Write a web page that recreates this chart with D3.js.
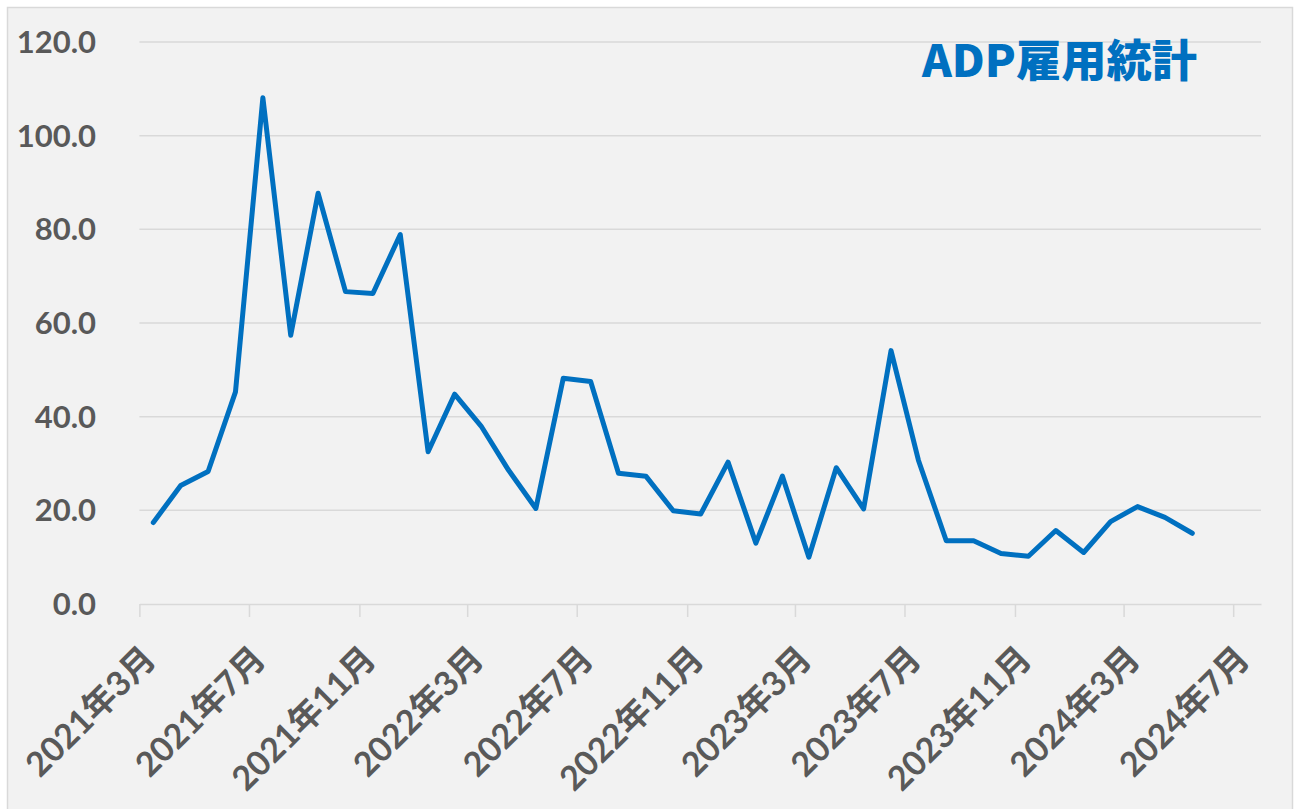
<!DOCTYPE html>
<html>
<head>
<meta charset="utf-8">
<script src="https://cdn.jsdelivr.net/npm/d3@7"></script>
<style>
  body { margin: 0; background: #fff; }
</style>
</head>
<body>
<div id="chart"></div>
<script>
// Data: ADP employment, monthly (Mar 2021 - May 2024)
let months = ["2021-03","2021-04","2021-05","2021-06","2021-07","2021-08","2021-09","2021-10","2021-11","2021-12",
              "2022-01","2022-02","2022-03","2022-04","2022-05","2022-06","2022-07","2022-08","2022-09","2022-10","2022-11","2022-12",
              "2023-01","2023-02","2023-03","2023-04","2023-05","2023-06","2023-07","2023-08","2023-09","2023-10","2023-11","2023-12",
              "2024-01","2024-02","2024-03","2024-04","2024-05"];
let values = [17.4, 25.3, 28.3, 45.3, 108.1, 57.4, 87.7, 66.7, 66.3, 78.9,
              32.5, 44.8, 38.0, 28.6, 20.4, 48.2, 47.5, 27.9, 27.3, 19.9, 19.2, 30.3,
              13.0, 27.3, 10.0, 29.1, 20.3, 54.1, 30.7, 13.5, 13.5, 10.8, 10.2, 15.7,
              11.0, 17.6, 20.8, 18.5, 15.1];

// Axis ticks
let tickMonths = ["2021-03","2021-07","2021-11","2022-03","2022-07","2022-11",
                  "2023-03","2023-07","2023-11","2024-03","2024-07"];
let tickLabels = ["2021年3月","2021年7月","2021年11月","2022年3月","2022年7月","2022年11月",
                  "2023年3月","2023年7月","2023年11月","2024年3月","2024年7月"];
let yTicks = [0, 20, 40, 60, 80, 100, 120];

let title = "ADP雇用統計";

let width = 1294, height = 809;
let parseMonth = d3.timeParse("%Y-%m");

let svg = d3.select("#chart")
  .append("svg")
  .attr("width", width)
  .attr("height", height);

// chart background
svg.append("rect")
  .attr("x", 7.5)
  .attr("y", 7.5)
  .attr("width", 1285)
  .attr("height", 810)
  .attr("fill", "#f2f2f2")
  .attr("stroke", "#d9d9d9")
  .attr("stroke-width", 1.5);

let x = d3.scaleTime()
  .domain([parseMonth("2021-03"), parseMonth("2024-08")])
  .range([139.4, 1261]);

let y = d3.scaleLinear()
  .domain([0, 120])
  .range([604, 42]);

// middle of each month
function midMonth(m) {
  let start = parseMonth(m);
  let end = d3.timeMonth.offset(start, 1);
  return new Date((start.getTime() + end.getTime()) / 2);
}

// gridlines
svg.append("g")
  .selectAll("line")
  .data(yTicks.filter(d => d > 0))
  .enter()
  .append("line")
  .attr("x1", x.range()[0])
  .attr("x2", x.range()[1])
  .attr("y1", d => y(d))
  .attr("y2", d => y(d))
  .attr("stroke", "#d9d9d9")
  .attr("stroke-width", 1.5);

// y labels
svg.append("g")
  .selectAll("text")
  .data(yTicks)
  .enter()
  .append("text")
  .attr("x", 96)
  .attr("y", d => y(d))
  .attr("dy", "0.35em")
  .attr("text-anchor", "end")
  .attr("font-family", "Lato, 'Noto Sans', sans-serif")
  .attr("font-weight", 700)
  .attr("font-size", 31)
  .attr("fill", "#595959")
  .text(d => d.toFixed(1));

// x axis
let tickDates = tickMonths.map(parseMonth);
let xAxis = d3.axisBottom(x)
  .tickValues(tickDates)
  .tickSize(13)
  .tickSizeOuter(0)
  .tickFormat((d, i) => tickLabels[i]);

let gx = svg.append("g")
  .attr("transform", "translate(0," + y(0) + ")")
  .call(xAxis);

gx.select(".domain")
  .attr("stroke", "#d9d9d9")
  .attr("stroke-width", 1.5);
gx.selectAll(".tick line")
  .attr("stroke", "#d9d9d9")
  .attr("stroke-width", 1.5);
gx.selectAll(".tick text")
  .attr("font-family", "Lato, 'Noto Sans CJK JP', sans-serif")
  .attr("font-weight", 700)
  .attr("font-size", 34)
  .attr("fill", "#595959")
  .attr("text-anchor", "end")
  .attr("y", 0)
  .attr("dy", 0)
  .attr("transform", "translate(18,57) rotate(-45)");

// line
let line = d3.line()
  .x((d, i) => x(midMonth(months[i])))
  .y(d => y(d));

svg.append("path")
  .datum(values)
  .attr("d", line)
  .attr("fill", "none")
  .attr("stroke", "#0070c0")
  .attr("stroke-width", 5)
  .attr("stroke-linejoin", "round")
  .attr("stroke-linecap", "round");

// title
svg.append("text")
  .attr("x", 922)
  .attr("y", 77)
  .attr("font-family", "'Noto Sans CJK JP', sans-serif")
  .attr("font-weight", 900)
  .attr("font-size", 44)
  .attr("fill", "#0070c0")
  .attr("textLength", 275)
  .attr("lengthAdjust", "spacingAndGlyphs")
  .text(title);
</script>
</body>
</html>
